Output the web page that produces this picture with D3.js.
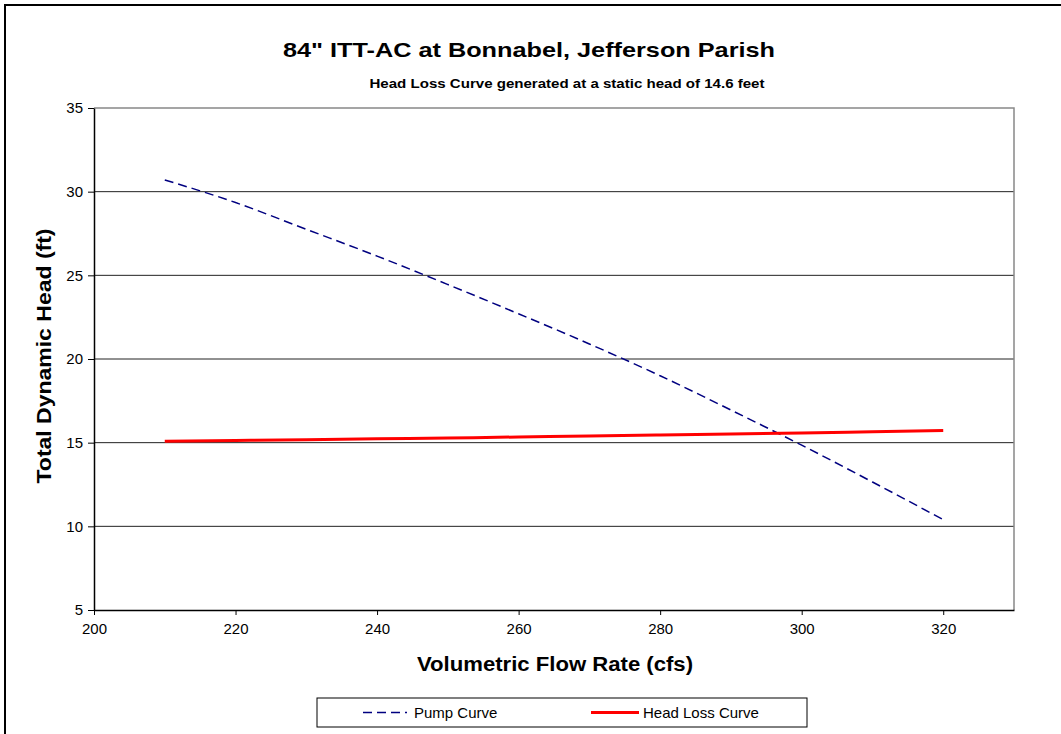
<!DOCTYPE html>
<html>
<head>
<meta charset="utf-8">
<script src="https://cdn.jsdelivr.net/npm/d3@7"></script>
<style>
  body { margin: 0; background: #fff; }
  text { font-family: "Liberation Sans", Arial, sans-serif; }
</style>
</head>
<body>
<div id="chart"></div>
<script>
// Chart data
var flow = [210, 220, 230, 240, 250, 260, 270, 280, 290, 300, 310, 320];
var pumpHead = [30.7, 29.35, 27.75, 26.15, 24.45, 22.7, 20.9, 19.0, 16.95, 14.85, 12.65, 10.4];
var lossHead = [15.08, 15.13, 15.18, 15.23, 15.28, 15.34, 15.4, 15.46, 15.52, 15.58, 15.65, 15.72];
var xTicks = [200, 220, 240, 260, 280, 300, 320];
var yTicks = [5, 10, 15, 20, 25, 30, 35];
var seriesNames = ["Pump Curve", "Head Loss Curve"];

var w = 1061;
var h = 734;
var margin = { top: 108, right: 47, bottom: 124, left: 94 };

var svg = d3.select("#chart")
            .append("svg")
            .attr("width", w)
            .attr("height", h);

// outer chart frame
svg.append("rect")
   .attr("x", 5).attr("y", 5)
   .attr("width", w + 20).attr("height", h + 20)
   .attr("fill", "none")
   .attr("stroke", "#000")
   .attr("stroke-width", 2);

var xscale = d3.scaleLinear().domain([200, 330]).range([margin.left, w - margin.right]);
var yscale = d3.scaleLinear().domain([5, 35]).range([h - margin.bottom, margin.top]);

// gridlines
svg.selectAll("line.grid")
   .data(yTicks.filter(d => d > 5 && d < 35))
   .enter()
   .append("line")
   .attr("class", "grid")
   .attr("x1", margin.left)
   .attr("x2", w - margin.right)
   .attr("y1", d => yscale(d))
   .attr("y2", d => yscale(d))
   .attr("stroke", "#222")
   .attr("stroke-width", 1);

// plot area border (top and right)
svg.append("path")
   .attr("d", `M${margin.left},${yscale(35)}H${w - margin.right}V${yscale(5)}`)
   .attr("fill", "none")
   .attr("stroke", "#888")
   .attr("stroke-width", 1.5);

// axes
var xAxis = svg.append("g")
   .attr("transform", `translate(0, ${yscale(5)})`)
   .call(d3.axisBottom(xscale).tickValues(xTicks).tickSize(5).tickPadding(8).tickSizeOuter(0));

var yAxis = svg.append("g")
   .attr("transform", `translate(${margin.left}, 0)`)
   .call(d3.axisLeft(yscale).tickValues(yTicks).tickSize(6).tickPadding(5).tickSizeOuter(0));

[xAxis, yAxis].forEach(function(g) {
    g.select(".domain").attr("stroke", "#000").attr("stroke-width", 1.5);
    g.selectAll(".tick line").attr("stroke", "#000");
    g.selectAll(".tick text")
     .attr("fill", "#000")
     .attr("font-size", 15)
     .attr("font-family", "Liberation Sans, Arial, sans-serif");
});

// lines
var curveLine = d3.line()
    .x((d, i) => xscale(flow[i]))
    .y(d => yscale(d))
    .curve(d3.curveMonotoneX);

svg.append("path")
   .datum(pumpHead)
   .attr("d", curveLine)
   .attr("fill", "none")
   .attr("stroke", "#000080")
   .attr("stroke-width", 1.5)
   .attr("stroke-dasharray", "9,5");

svg.append("path")
   .datum(lossHead)
   .attr("d", curveLine)
   .attr("fill", "none")
   .attr("stroke", "#ff0000")
   .attr("stroke-width", 3);

// titles (reference text is a little stretched horizontally)
svg.append("text")
   .attr("x", 529)
   .attr("y", 57)
   .attr("text-anchor", "middle")
   .attr("textLength", 492)
   .attr("lengthAdjust", "spacingAndGlyphs")
   .style("font-size", "21px")
   .style("font-weight", "bold")
   .text("84\" ITT-AC at Bonnabel, Jefferson Parish");

svg.append("text")
   .attr("x", 567)
   .attr("y", 88)
   .attr("text-anchor", "middle")
   .attr("textLength", 395)
   .attr("lengthAdjust", "spacingAndGlyphs")
   .style("font-size", "12px")
   .style("font-weight", "bold")
   .text("Head Loss Curve generated at a static head of 14.6 feet");

svg.append("text")
   .attr("x", 555)
   .attr("y", 671)
   .attr("text-anchor", "middle")
   .attr("textLength", 276)
   .attr("lengthAdjust", "spacingAndGlyphs")
   .style("font-size", "20px")
   .style("font-weight", "bold")
   .text("Volumetric Flow Rate (cfs)");

svg.append("text")
   .attr("transform", "rotate(-90)")
   .attr("x", -356)
   .attr("y", 51)
   .attr("text-anchor", "middle")
   .attr("textLength", 255)
   .attr("lengthAdjust", "spacingAndGlyphs")
   .style("font-size", "20px")
   .style("font-weight", "bold")
   .text("Total Dynamic Head (ft)");

// legend
svg.append("rect")
   .attr("x", 317).attr("y", 698)
   .attr("width", 490).attr("height", 29)
   .attr("fill", "#fff")
   .attr("stroke", "#000")
   .attr("stroke-width", 1);

var legendX = [363, 591];
var legendStyles = [
    { stroke: "#000080", width: 1.5, dash: "9,5", len: 44, gap: 7 },
    { stroke: "#ff0000", width: 3, dash: null, len: 48, gap: 4 }
];

svg.selectAll("line.legend")
   .data(seriesNames)
   .enter()
   .append("line")
   .attr("class", "legend")
   .attr("x1", (d, i) => legendX[i])
   .attr("x2", (d, i) => legendX[i] + legendStyles[i].len)
   .attr("y1", 712.5)
   .attr("y2", 712.5)
   .attr("stroke", (d, i) => legendStyles[i].stroke)
   .attr("stroke-width", (d, i) => legendStyles[i].width)
   .attr("stroke-dasharray", (d, i) => legendStyles[i].dash);

svg.selectAll("text.legend")
   .data(seriesNames)
   .enter()
   .append("text")
   .attr("class", "legend")
   .attr("x", (d, i) => legendX[i] + legendStyles[i].len + legendStyles[i].gap)
   .attr("y", 718)
   .style("font-size", "15px")
   .text(d => d);
</script>
</body>
</html>
